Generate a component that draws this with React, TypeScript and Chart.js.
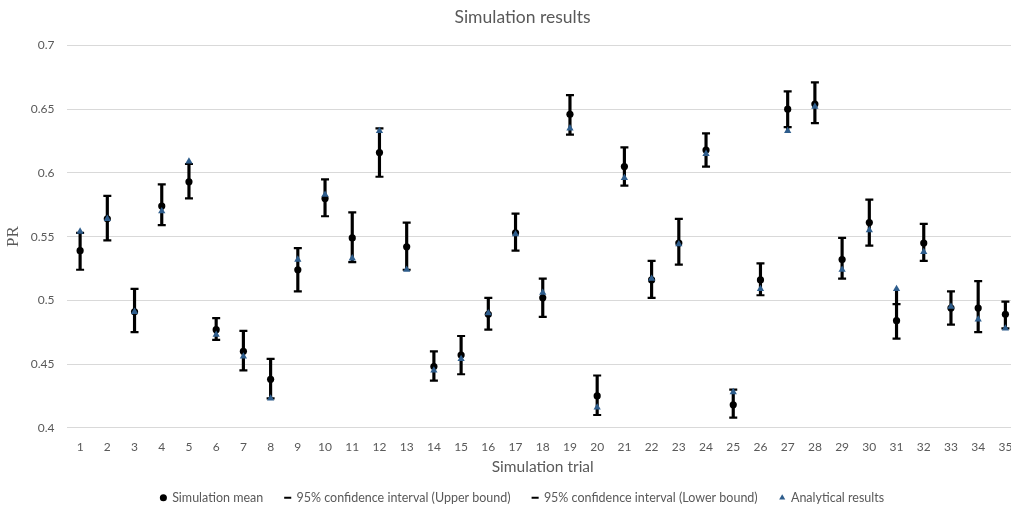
import React, { useEffect, useRef } from "react";
import { Chart, registerables } from "chart.js";

Chart.register(...registerables);

// Trial numbers along the x axis
const trials: string[] = Array.from({ length: 35 }, (_, i) => String(i + 1));

// Mean PR of the simulation runs per trial
const simulationMean: number[] = [
  0.539, 0.564, 0.491, 0.574, 0.593, 0.477, 0.460, 0.438, 0.524, 0.580,
  0.549, 0.616, 0.542, 0.448, 0.457, 0.489, 0.553, 0.502, 0.646, 0.425,
  0.605, 0.516, 0.545, 0.618, 0.418, 0.516, 0.650, 0.654, 0.532, 0.561,
  0.484, 0.545, 0.494, 0.494, 0.489,
];

// Upper bound of the 95% confidence interval
const upperBound: number[] = [
  0.553, 0.582, 0.509, 0.591, 0.607, 0.486, 0.476, 0.454, 0.541, 0.595,
  0.569, 0.635, 0.561, 0.460, 0.472, 0.502, 0.568, 0.517, 0.661, 0.441,
  0.620, 0.531, 0.564, 0.631, 0.430, 0.529, 0.664, 0.671, 0.549, 0.579,
  0.497, 0.560, 0.507, 0.515, 0.499,
];

// Lower bound of the 95% confidence interval
const lowerBound: number[] = [
  0.524, 0.547, 0.475, 0.559, 0.580, 0.469, 0.445, 0.423, 0.507, 0.566,
  0.530, 0.597, 0.524, 0.437, 0.442, 0.477, 0.539, 0.487, 0.630, 0.410,
  0.590, 0.502, 0.528, 0.605, 0.408, 0.504, 0.636, 0.639, 0.517, 0.543,
  0.470, 0.531, 0.481, 0.475, 0.478,
];

// PR predicted by the analytical model
const analytical: number[] = [
  0.554, 0.564, 0.491, 0.570, 0.609, 0.473, 0.456, 0.423, 0.532, 0.583,
  0.533, 0.633, 0.524, 0.445, 0.454, 0.490, 0.552, 0.506, 0.635, 0.416,
  0.596, 0.517, 0.544, 0.615, 0.428, 0.509, 0.633, 0.652, 0.524, 0.555,
  0.509, 0.538, 0.495, 0.485, 0.478,
];

// Y axis range and step
const yMin = 0.4;
const yMax = 0.7;
const yStep = 0.05;

const GREY = "#595959";
const BLUE = "#2E5D8C";
const FONT = "Lato";

// Left edge of the plot area and the page padding before the y axis
const PLOT_LEFT = 66.5;
const PAD_LEFT = 26;

export default function App() {
  const canvasRef = useRef<HTMLCanvasElement | null>(null);

  useEffect(() => {
    if (!canvasRef.current) return;

    // High-low line per trial: spans every series value at that trial
    const highLow = trials.map((_, i) => {
      const vals = [simulationMean[i], upperBound[i], lowerBound[i], analytical[i]];
      return [Math.min(...vals), Math.max(...vals)];
    });

    const chart = new Chart(canvasRef.current, {
      type: "bar",
      data: {
        labels: trials,
        datasets: [
          {
            type: "line",
            label: "Simulation mean",
            data: simulationMean,
            showLine: false,
            pointStyle: "circle",
            pointRadius: 3.6,
            backgroundColor: "#000000",
            borderColor: "#000000",
            borderWidth: 0,
            order: 2,
          },
          {
            type: "line",
            label: "95% confidence interval (Upper bound)",
            data: upperBound,
            showLine: false,
            pointStyle: "line",
            pointRadius: 4,
            pointBorderWidth: 2.2,
            backgroundColor: "#000000",
            borderColor: "#000000",
            order: 3,
          },
          {
            type: "line",
            label: "95% confidence interval (Lower bound)",
            data: lowerBound,
            showLine: false,
            pointStyle: "line",
            pointRadius: 4,
            pointBorderWidth: 2.2,
            backgroundColor: "#000000",
            borderColor: "#000000",
            order: 3,
          },
          {
            type: "line",
            label: "Analytical results",
            data: analytical,
            showLine: false,
            pointStyle: "triangle",
            pointRadius: 4.2,
            backgroundColor: BLUE,
            borderColor: BLUE,
            borderWidth: 0,
            order: 1,
          },
          {
            type: "bar",
            label: "highlow",
            data: highLow as any,
            backgroundColor: "#000000",
            borderWidth: 0,
            barThickness: 2.5,
            grouped: false,
            order: 5,
          },
        ],
      },
      options: {
        responsive: false,
        animation: false,
        events: [],
        layout: { padding: { top: 6.5, right: 29, bottom: 0, left: PAD_LEFT } },
        plugins: {
          tooltip: { enabled: false },
          title: {
            display: true,
            text: "Simulation results",
            color: GREY,
            font: { family: FONT, size: 17.5, weight: "normal" },
            padding: { top: 0, bottom: 18 },
          },
          legend: {
            position: "bottom",
            labels: {
              usePointStyle: true,
              boxWidth: 5,
              boxHeight: 5,
              padding: 22,
              color: GREY,
              font: { family: FONT, size: 12.5 },
              filter: (item) => item.text !== "highlow",
              sort: (a, b) => (a.datasetIndex ?? 0) - (b.datasetIndex ?? 0),
            },
          },
        },
        scales: {
          x: {
            type: "category",
            offset: true,
            grid: { display: false, drawTicks: false },
            border: { display: false },
            ticks: {
              color: GREY,
              font: { family: FONT, size: 12 },
              padding: 12,
              maxRotation: 0,
              autoSkip: false,
            },
            title: {
              display: true,
              text: "Simulation trial",
              color: GREY,
              font: { family: FONT, size: 15.5 },
              padding: { top: -8, bottom: -7.25 },
            },
          },
          y: {
            min: yMin,
            max: yMax,
            afterFit: (scale) => {
              scale.width = PLOT_LEFT - PAD_LEFT;
            },
            grid: { color: "#d9d9d9", lineWidth: 1, drawTicks: false },
            border: { display: false },
            ticks: {
              stepSize: yStep,
              color: GREY,
              font: { family: FONT, size: 12 },
              padding: 12,
              callback: (v) => String(parseFloat(Number(v).toFixed(2))),
            },
            title: {
              display: true,
              text: "PR",
              color: GREY,
              font: { family: "Liberation Serif", size: 17 },
              padding: { top: 3 - PAD_LEFT, bottom: 0 },
            },
          },
        },
      },
    });

    return () => chart.destroy();
  }, []);

  return (
    <div
      style={{
        position: "absolute",
        left: 0,
        top: 0,
        width: 1011,
        height: 508,
        overflow: "hidden",
        background: "#ffffff",
      }}
    >
      <canvas ref={canvasRef} width={1048} height={514} />
    </div>
  );
}
